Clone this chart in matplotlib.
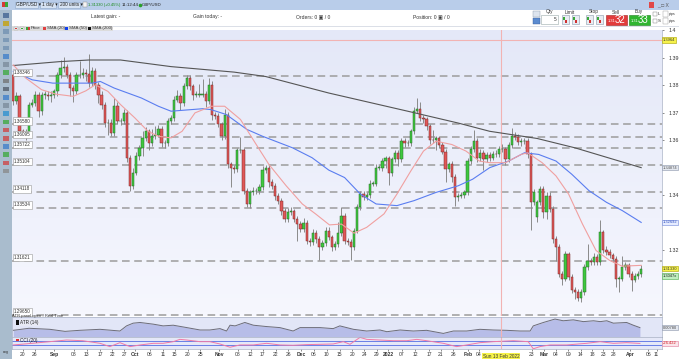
import numpy as np
import matplotlib
matplotlib.use("Agg")
import matplotlib.pyplot as plt
from matplotlib.patches import Rectangle
from matplotlib.colors import LinearSegmentedColormap
import matplotlib.transforms as mtrans

plt.rcParams['font.family'] = ['Liberation Sans', 'DejaVu Sans']

# ---------------- data ----------------
closes = [
    1.3741, 1.3759, 1.3632, 1.3630, 1.3626, 1.3729, 1.3735, 1.3765, 1.3705, 1.3765,
    1.3765, 1.3759, 1.3765, 1.3777, 1.3837, 1.3861, 1.3865, 1.3837, 1.3789, 1.3777,
    1.3837, 1.3837, 1.3842, 1.3839, 1.3807, 1.3851, 1.3801, 1.3765, 1.3729, 1.3663,
    1.3663, 1.3626, 1.3723, 1.3669, 1.3669, 1.3699, 1.3536, 1.3434, 1.3482, 1.3542,
    1.3572, 1.3608, 1.3632, 1.3590, 1.3614, 1.3620, 1.3642, 1.3590, 1.3590, 1.3669,
    1.3681, 1.3747, 1.3762, 1.3735, 1.3795, 1.3825, 1.3795, 1.3765, 1.3765, 1.3765,
    1.3767, 1.3741, 1.3801, 1.3693, 1.3687, 1.3657, 1.3614, 1.3693, 1.3512, 1.3500,
    1.3494, 1.3563, 1.3563, 1.3416, 1.3368, 1.3410, 1.3416, 1.3416, 1.3428, 1.3490,
    1.3500, 1.3446, 1.3434, 1.3398, 1.3380, 1.3344, 1.3313, 1.3338, 1.3341, 1.3313,
    1.3295, 1.3277, 1.3298, 1.3235, 1.3229, 1.3262, 1.3241, 1.3211, 1.3226, 1.3271,
    1.3247, 1.3211, 1.3223, 1.3262, 1.3326, 1.3235, 1.3229, 1.3211, 1.3271, 1.3356,
    1.3404, 1.3392, 1.3401, 1.3442, 1.3442, 1.3500, 1.3500, 1.3524, 1.3534, 1.3482,
    1.3530, 1.3554, 1.3530, 1.3596, 1.3590, 1.3590, 1.3632, 1.3707, 1.3714, 1.3681,
    1.3675, 1.3650, 1.3602, 1.3599, 1.3606, 1.3584, 1.3558, 1.3494, 1.3512, 1.3466,
    1.3392, 1.3398, 1.3401, 1.3410, 1.3524, 1.3566, 1.3596, 1.3534, 1.3554, 1.3530,
    1.3546, 1.3536, 1.3550, 1.3548, 1.3566, 1.3566, 1.3530, 1.3582, 1.3614, 1.3610,
    1.3594, 1.3596, 1.3596, 1.3548, 1.3374, 1.3410, 1.3374, 1.3422, 1.3338, 1.3398,
    1.3350, 1.3241, 1.3211, 1.3115, 1.3097, 1.3185, 1.3103, 1.3055, 1.3049, 1.3025,
    1.3049, 1.3139, 1.3161, 1.3157, 1.3175, 1.3157, 1.3265, 1.3202, 1.3193, 1.3181,
    1.3169, 1.3097, 1.3097, 1.3139, 1.3145, 1.3115, 1.3093, 1.3105, 1.3113, 1.3133,
]
first_open = 1.3837
gap_opens = {166: 1.3319}

# wick lengths in pips (0.0001) above / below the body
wick_up = [
    10, 15, 10, 10, 12, 10, 15, 15, 10, 10,
    15, 15, 12, 10, 12, 30, 38, 10, 10, 10,
    10, 50, 20, 15, 75, 15, 10, 10, 12, 10,
    15, 15, 30, 15, 10, 15, 10, 10, 15, 15,
    10, 25, 15, 10, 25, 30, 12, 10, 10, 12,
    10, 12, 20, 10, 12, 12, 10, 10, 12, 40,
    55, 10, 25, 12, 10, 10, 10, 20, 10, 10,
    10, 10, 50, 10, 10, 10, 12, 10, 12, 15,
    10, 10, 12, 10, 10, 10, 10, 15, 15, 10,
    10, 10, 20, 10, 10, 15, 10, 10, 10, 12,
    15, 10, 10, 40, 30, 10, 10, 10, 10, 12,
    12, 10, 10, 12, 10, 12, 10, 12, 10, 10,
    10, 10, 10, 10, 10, 10, 10, 12, 40, 25,
    10, 10, 10, 35, 10, 10, 10, 10, 10, 12,
    10, 10, 10, 10, 12, 12, 40, 10, 12, 10,
    12, 10, 10, 15, 12, 20, 10, 10, 30, 15,
    12, 10, 12, 10, 10, 12, 10, 12, 10, 12,
    15, 10, 10, 10, 10, 12, 10, 10, 10, 10,
    10, 10, 60, 12, 15, 10, 45, 10, 12, 10,
    10, 10, 10, 40, 12, 10, 10, 12, 10, 15,
]
wick_dn = [
    15, 10, 20, 15, 25, 10, 10, 12, 20, 15,
    15, 12, 20, 12, 15, 10, 12, 12, 30, 40,
    10, 10, 10, 25, 15, 10, 15, 30, 15, 15,
    45, 10, 10, 10, 15, 10, 15, 20, 10, 10,
    15, 30, 10, 25, 10, 10, 10, 15, 20, 10,
    10, 10, 10, 25, 10, 10, 12, 20, 10, 10,
    10, 20, 10, 20, 10, 10, 15, 10, 12, 70,
    15, 10, 10, 10, 12, 15, 10, 12, 10, 10,
    10, 15, 10, 15, 12, 15, 12, 10, 10, 12,
    60, 12, 10, 12, 15, 10, 15, 45, 10, 10,
    10, 15, 12, 10, 10, 12, 10, 45, 10, 10,
    10, 10, 10, 10, 10, 10, 10, 12, 25, 45,
    12, 10, 25, 10, 15, 10, 10, 10, 10, 10,
    12, 15, 15, 10, 35, 12, 10, 45, 10, 20,
    30, 12, 10, 10, 10, 10, 10, 12, 10, 40,
    10, 12, 10, 10, 10, 10, 20, 10, 10, 10,
    10, 15, 10, 12, 100, 10, 15, 10, 20, 25,
    12, 15, 50, 12, 25, 10, 10, 12, 25, 10,
    12, 10, 10, 10, 10, 10, 10, 12, 10, 10,
    12, 30, 50, 10, 10, 12, 40, 10, 10, 10,
]

sma20_idx = [0, 4, 9, 13.5, 19, 23, 26, 30, 34, 38.5, 42.7, 46, 50, 53.5, 57.6, 62.8, 67, 72, 77,
             81, 86.5, 91.6, 95.8, 100.2, 104, 108, 112, 117.5, 121.6, 126, 130, 134, 139, 143.5,
             147.7, 151, 156, 161, 163, 167.6, 172, 176, 180.4, 184.7, 189, 193, 199]
sma20_val = [1.3873, 1.3825, 1.3783, 1.3767, 1.3759, 1.3779, 1.3801, 1.3777, 1.3729, 1.3681, 1.3632,
             1.3614, 1.3608, 1.3632, 1.3699, 1.3723, 1.3723, 1.3675, 1.3584, 1.3512, 1.3434, 1.3368,
             1.3332, 1.3292, 1.3295, 1.3262, 1.3283, 1.3332, 1.3404, 1.3488, 1.3560, 1.3596, 1.3584,
             1.3560, 1.3524, 1.3518, 1.3518, 1.3548, 1.3554, 1.3518, 1.3470, 1.3404, 1.3295, 1.3199,
             1.3163, 1.3142, 1.3145]
sma50_idx = [0, 6, 12.5, 25, 27.6, 32, 40.6, 46, 50, 60, 62.6, 67.5, 74, 79, 88.5, 94.7, 100, 105,
             110, 115, 121.6, 127, 134, 141, 145.6, 151, 157, 162, 166.5, 172, 177, 182.5, 188, 193, 199]
sma50_val = [1.3850, 1.3819, 1.3807, 1.3807, 1.3813, 1.3789, 1.3753, 1.3723, 1.3705, 1.3714, 1.3711,
             1.3693, 1.3639, 1.3614, 1.3572, 1.3536, 1.3491, 1.3464, 1.3404, 1.3368, 1.3362, 1.3380,
             1.3410, 1.3434, 1.3458, 1.3500, 1.3524, 1.3554, 1.3548, 1.3524, 1.3476, 1.3416, 1.3374,
             1.3344, 1.3301]
sma200_idx = [0, 14.6, 24, 34, 50, 70, 80, 100, 125, 141, 151, 166, 178, 199]
sma200_val = [1.3871, 1.3885, 1.3891, 1.3891, 1.3867, 1.3847, 1.3831, 1.3771, 1.3705, 1.3662,
              1.3632, 1.3606, 1.3572, 1.3500]

atr_idx = [0, 5, 11.6, 16.4, 21, 27.5, 33.8, 35.9, 38, 40.2, 44.4, 47.5, 50.7, 55, 59.2, 62.3, 65.5,
           67.6, 68.7, 70.3, 73.4, 76.1, 80.3, 84.5, 88.7, 90.9, 97.2, 101.4, 103.5, 107.8, 112,
           116.2, 118.4, 122.6, 126.8, 131, 136.3, 139.5, 143.7, 147.9, 152.1, 156.4, 160.6, 163.8,
           164.8, 168, 171.7, 174.3, 177.5, 180.7, 183.9, 186, 188.1, 190.2, 194.4, 196.5, 198.6]
atr_val = [0.00687, 0.00766, 0.00726, 0.00647, 0.00687, 0.00726, 0.00661, 0.00858, 0.00963, 0.00989,
           0.00924, 0.00858, 0.00884, 0.00792, 0.00700, 0.00700, 0.00753, 0.00661, 0.00884, 0.00858,
           0.00989, 0.00884, 0.00832, 0.00792, 0.00661, 0.00792, 0.00792, 0.00753, 0.00858, 0.00726,
           0.00661, 0.00700, 0.00634, 0.00700, 0.00661, 0.00687, 0.00568, 0.00661, 0.00661, 0.00726,
           0.00700, 0.00687, 0.00661, 0.00661, 0.00858, 0.00989, 0.01121, 0.01055, 0.01090, 0.01022,
           0.01055, 0.01022, 0.01055, 0.00963, 0.00989, 0.00884, 0.00792]

cci_idx = [0, 6, 11.6, 16.9, 22, 27.5, 30.6, 33.8, 37, 40.2, 44.4, 47.5, 50.7, 52.8, 55, 59.2, 62.3,
           65.5, 68.7, 71.8, 76.1, 80.3, 84.5, 88.7, 93, 97.2, 101.4, 104.6, 106.7, 109.9, 112, 116.2,
           120.5, 124.7, 127.9, 131, 136.3, 140.5, 143.7, 147.9, 152.1, 158.5, 163.2, 164.8, 166.9,
           170.1, 175.4, 181.7, 186, 190.2, 194.4, 198.6]
cci_val = [-100, -22, 55, 133, 100, -22, -178, 8, -178, -100, -22, -22, 55, 164, 133, 55, 55, -53,
           -207, -100, -100, -22, -100, -115, -84, -69, -53, 55, -69, 258, 164, 133, 101, 101, 164,
           101, -22, -178, -100, 8, 55, 101, 55, -280, -178, -100, -100, -22, 55, -22, 8, -26]

levels = [1.38346, 1.36580, 1.36095, 1.35722, 1.35104, 1.34118, 1.33534, 1.31621, 1.29650]
level_labels = ["1.38346", "1.36580", "1.36095", "1.35722", "1.35104", "1.34118", "1.33534",
                "1.31621", "1.29650"]
alert_level = 1.3964
right_ticks = [1.32, 1.34, 1.36, 1.37, 1.38, 1.39, 1.40]
right_tick_labels = ["1.32", "1.34", "1.36", "1.37", "1.38", "1.39", "1.4"]

date_idx = [3.0, 6.8, 13.0, 19.2, 23.3, 27.5, 31.4, 35.1, 38.6, 43.3, 47.4, 51.2, 55.3, 59.2, 65.2,
            71.2, 75.3, 79.1, 83.2, 87.1, 91.2, 95.3, 99.3, 103.5, 107.4, 111.2, 115.2, 118.8, 123.2,
            127.3, 131.8, 135.5, 139.5, 144.2, 147.6, 164.3, 168.2, 171.9, 175.9, 179.8, 183.5,
            187.0, 190.2, 195.5, 201.3, 203.9]
date_labels = ["20", "26", "Sep", "08", "13", "17", "22", "27", "Oct", "06", "11", "15", "20", "25",
               "Nov", "08", "12", "17", "22", "26", "Dec", "06", "10", "15", "20", "24", "29", "2022",
               "07", "12", "17", "21", "26", "Feb", "04", "23", "Mar", "04", "09", "14", "18", "23",
               "28", "Apr", "06", "11"]
bold_labels = {"Sep", "Oct", "Nov", "Dec", "2022", "Feb", "Mar", "Apr"}
cursor_idx = 154.6
cursor_label = "Sun 13 Feb 2022"

# ---------------- figure ----------------
W, H = 679, 359
fig = plt.figure(figsize=(W / 100, H / 100), dpi=100)


def pax(x0, y0, x1, y1, z=1):
    a = fig.add_axes([x0 / W, 1 - y1 / H, (x1 - x0) / W, (y1 - y0) / H])
    a.set_zorder(z)
    return a


cv = pax(0, 0, W, H, z=0)
cv.set_xlim(0, W)
cv.set_ylim(H, 0)
cv.axis('off')

# furniture: top bar, toolbars
cv.add_patch(Rectangle((0, 0), W, 10, color='#b9cdea', lw=0))
cv.add_patch(Rectangle((0, 9.5), W, 0.8, color='#8aa6cc', lw=0))
cv.add_patch(Rectangle((0, 10), 12, H - 10, color='#a9bccd', lw=0))
cv.add_patch(Rectangle((12, 10), W - 12, 20, color='white', lw=0))
cv.add_patch(Rectangle((662, 30), 17, 320, color='white', lw=0))
cv.add_patch(Rectangle((12, 349), 650, 10, color='white', lw=0))
cv.plot([12, 679], [25.5, 25.5], color='#d5d9e3', lw=0.6)

# top bar items
cv.add_patch(Rectangle((2, 2), 3, 5, color='#d83a3a', lw=0))
cv.add_patch(Rectangle((5, 1.5), 3, 5, color='#3aa83a', lw=0))
for x0, x1, s in [(15, 38, "GBP/USD \u25be"), (40, 56, "1 day \u25be"), (58, 80, "200 units \u25be")]:
    cv.add_patch(Rectangle((x0, 1.5), x1 - x0, 6.5, fc='#d7e3f3', ec='#8ea7c8', lw=0.4))
    cv.text(x0 + 1.5, 4.9, s, fontsize=3.4, va='center', color='#222')
cv.add_patch(Rectangle((83, 2), 4, 5, fc='#f4f4f4', ec='#888', lw=0.3))
cv.text(88.5, 4.9, "1.31330 (+0.45%)", fontsize=3.0, va='center', color='#1a8a1a')
cv.text(122, 4.9, "11:12:44", fontsize=3.2, va='center', color='#222')
cv.plot([139.5], [4.9], 'o', ms=1.6, color='#2aa02a')
cv.text(142, 4.9, "GBP/USD", fontsize=3.2, va='center', color='#222')
cv.add_patch(Rectangle((649, 1.5), 5, 6, color='#e04848', lw=0))
cv.text(657, 4.9, "_ \u25a1 X", fontsize=3.6, va='center', color='#555')

# second row
cv.text(91, 16.5, "Latest gain: -", fontsize=3.6, va='center', color='#333')
cv.text(193, 16.5, "Gain today: -", fontsize=3.6, va='center', color='#333')
cv.text(296, 16.5, "Orders: 0 \u25a3 / 0", fontsize=3.6, va='center', color='#333')
cv.text(413, 16.5, "Position: 0 \u25a3 / 0", fontsize=3.6, va='center', color='#333')
cv.add_patch(Rectangle((533, 11), 7, 6, fc='#dde4ee', ec='#8899aa', lw=0.3))
cv.add_patch(Rectangle((533, 18), 7, 6, fc='#5b8bd0', ec='#3a5f99', lw=0.3))
cv.text(549, 12, "Qty", fontsize=3.4, va='center', ha='center', color='#333')
cv.add_patch(Rectangle((541, 15), 17, 9, fc='white', ec='#9aa', lw=0.4))
cv.text(557, 19.5, "5", fontsize=3.4, va='center', ha='right', color='#333')
for cx, lab in [(570, "Limit"), (594, "Stop")]:
    cv.text(cx, 12, lab, fontsize=3.4, va='center', ha='center', color='#333')
    for dx in (-8.5, 1.5):
        cv.add_patch(Rectangle((cx + dx, 15), 7, 9, fc='#e8ecf2', ec='#8899aa', lw=0.4))
        cv.add_patch(Rectangle((cx + dx + 1.5, 17), 2, 2.5, color='#3aa83a', lw=0))
        cv.add_patch(Rectangle((cx + dx + 3.5, 20), 2, 2.5, color='#d03030', lw=0))
cv.text(616, 12, "Sell", fontsize=3.4, va='center', ha='center', color='#333')
cv.text(639, 12, "Buy", fontsize=3.4, va='center', ha='center', color='#333')
cv.add_patch(Rectangle((606, 15), 21, 10, fc='#e23b3b', ec='#a02020', lw=0.4))
cv.add_patch(Rectangle((629, 15), 21, 10, fc='#30b530', ec='#1f7f1f', lw=0.4))
cv.text(608, 20.5, "1.31", fontsize=2.8, va='center', color='white')
cv.text(615, 20, "32", fontsize=7, va='center', color='white')
cv.text(631, 20.5, "1.31", fontsize=2.8, va='center', color='white')
cv.text(638, 20, "33", fontsize=7, va='center', color='white')
for yy, lab in [(14, "L"), (21, "S")]:
    cv.add_patch(Rectangle((653, yy - 2), 3.5, 3.5, fc='white', ec='#777', lw=0.3))
    cv.text(657.5, yy, lab, fontsize=3.2, va='center', color='#333')
    cv.add_patch(Rectangle((663, yy - 3), 5, 6, fc='white', ec='#999', lw=0.3))
    cv.text(669, yy, "pips", fontsize=2.6, va='center', color='#333')

# left toolbar icons
icon_cols = ['#3d5f8f', '#c8a000', '#6f8fb0', '#6f8fb0', '#6f8fb0', '#3a7cc9', '#7a8a9a', '#3aa83a',
             '#707070', '#505a66', '#3a7cc9', '#7a8a9a', '#2a8fd0', '#3aa83a', '#d04040', '#d04040',
             '#3a7cc9', '#3aa83a', '#d04040', '#888888']
for k, col in enumerate(icon_cols):
    cv.add_patch(Rectangle((3, 13 + k * 8.2), 6, 4.5, fc=col, ec='none', alpha=0.75))
cv.text(6, 352, "eng", fontsize=2.6, ha='center', va='center', color='#333')

# ---------------- main price axes ----------------
n = len(closes)
idx = np.arange(n)
opens = [first_open] + closes[:-1]
for k, v in gap_opens.items():
    opens[k] = v
o = np.array(opens)
c = np.array(closes)
hi = np.maximum(o, c) + np.array(wick_up) * 1e-4
lo = np.minimum(o, c) - np.array(wick_dn) * 1e-4
up = c >= o

XL = (-0.4, 205.6)
YL = (1.29610, 1.39934)
ax = pax(12, 30, 662, 316, z=2)
grad = np.linspace(0, 1, 64).reshape(-1, 1)
bgmap = LinearSegmentedColormap.from_list('bg', ['#f6f7fe', '#e4e8f8'])
ax.imshow(grad, extent=[0, 1, 1, 0], transform=ax.transAxes, cmap=bgmap, aspect='auto', zorder=0)
ax.set_xlim(*XL)
ax.set_ylim(*YL)

for lv in levels:
    ax.axhline(lv, color='#9c9c9c', lw=1.1, ls=(0, (5, 3)), zorder=1)
for lv, lab in zip(levels, level_labels):
    ax.text(0.003, lv + 0.0011, lab, transform=mtrans.blended_transform_factory(ax.transAxes, ax.transData),
            fontsize=3.3, va='center', ha='left', color='#333', zorder=6,
            bbox=dict(boxstyle='square,pad=0.25', fc='white', ec='#9a9a9a', lw=0.4))
ax.axhline(alert_level, color='#f2b3b3', lw=0.8, zorder=1)
ax.axvline(cursor_idx, color='#f2b3b3', lw=0.8, zorder=1)

ax.vlines(idx, lo, hi, color='#8a8a8a', lw=0.7, zorder=3)
body_h = np.maximum(np.abs(c - o), 0.00008)
body_b = np.minimum(o, c)
ax.bar(idx[up], body_h[up], bottom=body_b[up], width=0.72, color='#3ec83e', edgecolor='#2a6a2a', lw=0.35, zorder=4)
ax.bar(idx[~up], body_h[~up], bottom=body_b[~up], width=0.72, color='#e05858', edgecolor='#7a2a2a', lw=0.35, zorder=4)

ax.plot(sma200_idx, sma200_val, color='#555555', lw=0.8, zorder=5)
ax.plot(sma50_idx, sma50_val, color='#5a7df0', lw=0.8, zorder=5)
ax.plot(sma20_idx, sma20_val, color='#f0a0a0', lw=0.8, zorder=5)

ax.yaxis.tick_right()
ax.set_yticks(right_ticks)
ax.set_yticklabels(right_tick_labels)
ax.tick_params(axis='y', labelsize=3.8, length=1.5, width=0.4, pad=3, colors='#333')
ax.set_xticks([])
for s in ax.spines.values():
    s.set_visible(False)
ax.spines['right'].set_visible(True)
ax.spines['right'].set_color('#b0b8c8')
ax.spines['right'].set_linewidth(0.5)

bt = mtrans.blended_transform_factory(ax.transAxes, ax.transData)
box_fs = 2.9
box_kw = dict(transform=bt, fontsize=box_fs, va='center', ha='left', zorder=7, clip_on=False)
ax.text(1.0015, alert_level, "1.3964", color='#333',
        bbox=dict(boxstyle='square,pad=0.2', fc='#f6f24a', ec='#a8a000', lw=0.4), **box_kw)
ax.text(1.0015, sma200_val[-1], "1.34874", color='#555',
        bbox=dict(boxstyle='square,pad=0.2', fc='#e4e8f0', ec='#8892a8', lw=0.4), **box_kw)
ax.text(1.0015, sma50_val[-1], "1.32692", color='#3050c0',
        bbox=dict(boxstyle='square,pad=0.2', fc='#e6ecff', ec='#6f86d8', lw=0.4), **box_kw)
ax.text(1.0015, closes[-1], "1.31330", color='#333',
        bbox=dict(boxstyle='square,pad=0.2', fc='#f6f24a', ec='#a8a000', lw=0.4), **box_kw)
ax.text(1.0015, closes[-1] - 0.0026, "1.3047x", color='#222',
        bbox=dict(boxstyle='square,pad=0.2', fc='#bfeebf', ec='#4aa84a', lw=0.4), **box_kw)

# legend strip
lg = pax(12, 25.5, 113, 30.5, z=3)
lg.set_xlim(12, 113)
lg.set_ylim(30.5, 25.5)
lg.axis('off')
lg.add_patch(Rectangle((12, 25.5), 101, 5, color='#dcdcdc', lw=0))
for x0, col in [(14, '#d04040'), (20, '#3aa83a')]:
    lg.add_patch(Rectangle((x0, 26.5), 3.5, 3, fc='#f4f4f4', ec='#999', lw=0.3))
    lg.add_patch(Rectangle((x0 + 1, 27.5), 1.5, 1, color=col, lw=0))
lg.add_patch(Rectangle((26, 26.5), 2, 3, color='#3aa83a', lw=0))
lg.add_patch(Rectangle((28, 26.5), 2, 3, color='#d04040', lw=0))
lg.text(31, 28, "Price", fontsize=3.2, va='center', color='#333')
for x0, col, lab in [(43, '#e04040', "SMA (20)"), (65, '#1040f0', "SMA (50)"), (88, '#111111', "SMA (200)")]:
    lg.add_patch(Rectangle((x0, 26.5), 3, 3, color=col, lw=0))
    lg.text(x0 + 4, 28, lab, fontsize=3.2, va='center', color='#333')

# ---------------- ATR panel ----------------
atr = pax(12, 317, 662, 337, z=2)
atr.set_xlim(*XL)
atr.set_ylim(0.0043, 0.0120)
atr.set_facecolor('#e2e6f7')
atr.fill_between(atr_idx, atr_val, 0.0043, color='#b7bde8', lw=0)
atr.plot(atr_idx, atr_val, color='#6c6c78', lw=0.7)
atr.axvline(cursor_idx, color='#f2b3b3', lw=0.8)
atr.set_xticks([])
atr.set_yticks([])
for s in atr.spines.values():
    s.set_color('#a8b0c4')
    s.set_linewidth(0.5)
atr.add_patch(Rectangle((0.006, 0.62), 0.004, 0.25, transform=atr.transAxes, color='#111', lw=0))
atr.text(0.013, 0.74, "ATR (14)", transform=atr.transAxes, fontsize=3.3, va='center', color='#222',
         bbox=dict(boxstyle='square,pad=0.2', fc='#e8eaf4', ec='none'))
atr.text(1.0015, atr_val[-1], "0.00780", transform=mtrans.blended_transform_factory(atr.transAxes, atr.transData),
         fontsize=box_fs, va='center', ha='left', color='#444', clip_on=False,
         bbox=dict(boxstyle='square,pad=0.2', fc='#e4e8f0', ec='#8892a8', lw=0.4))
fig.text(12 / W, 1 - 315.5 / H, "ATR panel open - Real Time", fontsize=3.0, color='#333', va='center', zorder=8)

# ---------------- CCI panel ----------------
cci = pax(12, 337, 662, 349, z=2)
cci.set_xlim(*XL)
cci.set_ylim(-290, 275)
cci.set_facecolor('#e5e8f8')
cci.axhline(100, color='#6a7fe6', lw=0.7)
cci.axhline(-100, color='#6a7fe6', lw=0.7)
cci.plot(cci_idx, cci_val, color='#f27aa6', lw=0.7)
cci.axvline(cursor_idx, color='#f2b3b3', lw=0.8)
cci.set_yticks([])
for s in cci.spines.values():
    s.set_color('#a8b0c4')
    s.set_linewidth(0.5)
cci.add_patch(Rectangle((0.006, 0.55), 0.004, 0.3, transform=cci.transAxes, color='#e03030', lw=0))
cci.text(0.013, 0.7, "CCI (20)", transform=cci.transAxes, fontsize=3.3, va='center', color='#222')
cci.text(1.0015, cci_val[-1], "-26.422", transform=mtrans.blended_transform_factory(cci.transAxes, cci.transData),
         fontsize=box_fs, va='center', ha='left', color='#d02020', clip_on=False,
         bbox=dict(boxstyle='square,pad=0.2', fc='#fbe4ea', ec='#e07a9a', lw=0.4))
cci.set_xticks(date_idx)
cci.set_xticklabels(date_labels)
cci.tick_params(axis='x', labelsize=3.6, length=1.2, width=0.4, pad=1.2, colors='#333')
for t in cci.get_xticklabels():
    if t.get_text() in bold_labels:
        t.set_fontweight('bold')
cci.text(cursor_idx, -0.62, cursor_label, transform=mtrans.blended_transform_factory(cci.transData, cci.transAxes),
         fontsize=3.4, ha='center', va='center', color='#333', clip_on=False,
         bbox=dict(boxstyle='square,pad=0.2', fc='#f6f24a', ec='none'))

fig.savefig("out.png", dpi=100)
